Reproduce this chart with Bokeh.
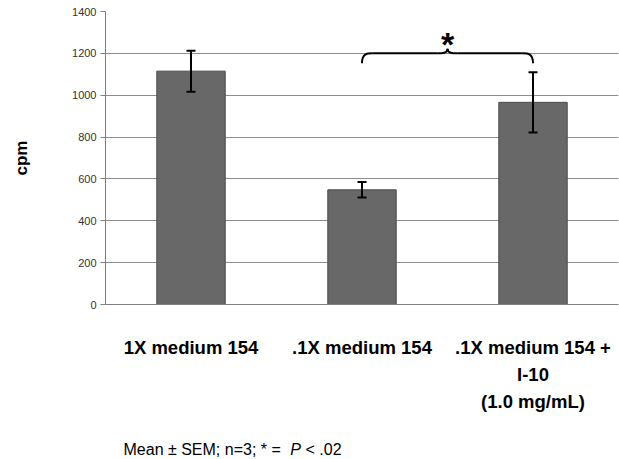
import numpy as np
from bokeh.plotting import figure
from bokeh.layouts import column
from bokeh.models import FixedTicker, Whisker, ColumnDataSource, Range1d, TeeHead
from bokeh.embed import file_html
from bokeh.resources import INLINE
from bokeh.core.properties import value

# ---- data ----
categories = ["1X medium 154", ".1X medium 154", ".1X medium 154 +\nI-10\n(1.0 mg/mL)"]
means = [1115, 548, 966]
sems = [98, 37, 144]
y_ticks = [0, 200, 400, 600, 800, 1000, 1200, 1400]
y_label = "cpm"
footnote_parts = ["Mean ± SEM; n=3; * =", "P", "< .02"]
signif_mark = "*"

FONT = "Liberation Sans"

x = [i + 0.5 for i in range(len(categories))]
src = ColumnDataSource(dict(
    x=x, top=means,
    upper=[m + s for m, s in zip(means, sems)],
    lower=[m - s for m, s in zip(means, sems)],
))

p = figure(width=619, height=425, x_range=Range1d(0, len(categories)),
           y_range=Range1d(0, 1400), output_backend="svg", toolbar_location=None,
           min_border_left=105, min_border_right=1, min_border_top=11,
           min_border_bottom=121)
p.outline_line_color = None
p.background_fill_color = "white"
p.border_fill_color = "white"

# bars
p.vbar(x="x", top="top", width=0.4, source=src, fill_color="#686868",
       line_color="#4a4a4a", line_width=1)

# error bars
whisk = Whisker(source=src, base="x", upper="upper", lower="lower",
                line_width=2, line_color="black", level="overlay",
                upper_head=TeeHead(size=9, line_width=2, line_color="black"),
                lower_head=TeeHead(size=9, line_width=2, line_color="black"))
p.add_layout(whisk)

# grid
p.xgrid.grid_line_color = None
p.ygrid.ticker = FixedTicker(ticks=y_ticks)
p.ygrid.grid_line_color = "#8c8c8c"
p.ygrid.grid_line_width = 1

# y axis
p.yaxis.ticker = FixedTicker(ticks=y_ticks)
p.yaxis.axis_line_color = "#808080"
p.yaxis.major_tick_line_color = "#808080"
p.yaxis.major_tick_out = 5
p.yaxis.major_tick_in = 0
p.yaxis.minor_tick_line_color = None
p.yaxis.major_label_standoff = 4
p.yaxis.major_label_text_font = FONT
p.yaxis.major_label_text_font_size = "11px"
p.yaxis.major_label_text_color = "#333333"
p.yaxis.axis_label = y_label
p.yaxis.axis_label_text_font = FONT
p.yaxis.axis_label_text_font_style = "bold"
p.yaxis.axis_label_text_font_size = "17px"
p.yaxis.axis_label_text_color = "black"
p.yaxis.axis_label_standoff = 38

# x axis
p.xaxis.ticker = FixedTicker(ticks=x)
p.xaxis.major_label_overrides = {xi: c for xi, c in zip(x, categories)}
p.xaxis.axis_line_color = "#808080"
p.xaxis.major_tick_line_color = None
p.xaxis.minor_tick_line_color = None
p.xaxis.major_tick_out = 0
p.xaxis.major_tick_in = 0
p.xaxis.major_label_standoff = 32
p.xaxis.major_label_text_font = FONT
p.xaxis.major_label_text_font_style = "bold"
p.xaxis.major_label_text_font_size = "18.5px"
p.xaxis.major_label_text_color = "black"
p.xaxis.major_label_text_line_height = 1.3

# significance brace between bar 2 and bar 3
L, R = x[1], x[2]
M = (L + R) / 2
yb = 1200
drop = 47
rise = 22
ex = 0.06
bx0 = [L, M - ex, R, M + ex]
by0 = [yb - drop, yb, yb - drop, yb]
bx1 = [L + ex, M, R - ex, M]
by1 = [yb, yb + rise, yb, yb + rise]
bcx0 = [L, M - ex * 0.5, R, M + ex * 0.5]
bcy0 = [yb, yb, yb, yb]
bcx1 = [L + ex * 0.5, M, R - ex * 0.5, M]
bcy1 = [yb, yb, yb, yb]
p.bezier(x0=bx0, y0=by0, x1=bx1, y1=by1, cx0=bcx0, cy0=bcy0, cx1=bcx1, cy1=bcy1,
         line_color="black", line_width=2)
p.segment(x0=[L + ex, M + ex], y0=[yb, yb], x1=[M - ex, R - ex], y1=[yb, yb],
          line_color="black", line_width=2)
p.text(x=[M], y=[1247], text=[signif_mark], text_font=value(FONT),
       text_font_style="bold", text_font_size="34px", text_align="center",
       text_baseline="alphabetic", text_color="black")

# footnote strip: its frame is aligned with the chart's frame (105..618 px),
# so one x unit is one page pixel
foot = figure(width=619, height=34, x_range=Range1d(105, 618),
              y_range=Range1d(0, 34), output_backend="svg", toolbar_location=None,
              x_axis_location=None, y_axis_location=None, title=None,
              min_border_left=105, min_border_right=1, min_border_top=0,
              min_border_bottom=0)
foot.grid.visible = False
foot.outline_line_color = None
foot.background_fill_color = "white"
foot.border_fill_color = "white"
fx, fy = 123, 10
offsets = [0, 166.8, 182]
styles = ["normal", "italic", "normal"]
for part, off, st in zip(footnote_parts, offsets, styles):
    foot.text(x=[fx + off], y=[fy], text=[part], text_font=value(FONT),
              text_font_size="16px", text_font_style=st,
              text_baseline="alphabetic", text_align="left", text_color="black")

layout = column(p, foot, spacing=0)
open("out.html", "w").write(file_html(layout, INLINE))
